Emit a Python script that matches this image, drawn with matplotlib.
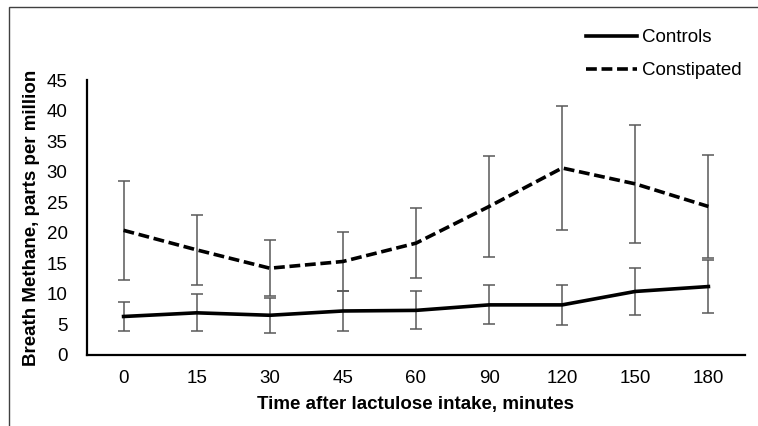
import matplotlib
matplotlib.use("Agg")
import matplotlib.pyplot as plt
import matplotlib.patches as mpatches

plt.rcParams['font.family'] = ['Liberation Sans', 'DejaVu Sans']

# data
times = ['0', '15', '30', '45', '60', '90', '120', '150', '180']
controls = [6.3, 6.9, 6.5, 7.2, 7.3, 8.2, 8.2, 10.4, 11.2]
controls_err = [2.4, 3.0, 2.9, 3.2, 3.1, 3.2, 3.3, 3.9, 4.4]
constipated = [20.4, 17.2, 14.2, 15.3, 18.3, 24.3, 30.6, 28.0, 24.3]
constipated_err = [8.1, 5.7, 4.6, 4.9, 5.7, 8.3, 10.2, 9.7, 8.4]

fs = 13.5

fig = plt.figure(figsize=(7.58, 4.26), dpi=100)
ax = fig.add_axes([0.1148, 0.1667, 0.868, 0.6455])

x = list(range(len(times)))
err_color = '#595959'

ax.errorbar(x, controls, yerr=controls_err, fmt='none', ecolor=err_color,
            elinewidth=1.1, capsize=4, capthick=1.1, zorder=2)
ax.errorbar(x, constipated, yerr=constipated_err, fmt='none', ecolor=err_color,
            elinewidth=1.1, capsize=4, capthick=1.1, zorder=2)
ax.plot(x, controls, color='black', linewidth=2.6, label='Controls', zorder=3)
ax.plot(x, constipated, color='black', linewidth=2.6, linestyle=(0, (3.0, 1.3)),
        label='Constipated', zorder=3)

ax.set_xlim(-0.5, len(times) - 0.5)
ax.set_ylim(0, 45)
ax.set_xticks(x)
ax.set_xticklabels(times)
ax.set_yticks(range(0, 46, 5))
ax.tick_params(axis='both', length=0, labelsize=fs, colors='black')
ax.tick_params(axis='x', pad=11)
ax.tick_params(axis='y', pad=14)

for side in ['top', 'right']:
    ax.spines[side].set_visible(False)
for side in ['left', 'bottom']:
    ax.spines[side].set_linewidth(1.6)
    ax.spines[side].set_color('black')

ax.set_xlabel('Time after lactulose intake, minutes', fontsize=fs,
              fontweight='bold', labelpad=6)
ax.set_ylabel('Breath Methane, parts per million', fontsize=fs,
              fontweight='bold', labelpad=5)

fig.legend(loc='upper left', bbox_to_anchor=(586 / 758, 1 - 29 / 426),
           frameon=False, fontsize=fs, handlelength=2.7, handletextpad=0.3,
           labelspacing=0.85, borderpad=0, borderaxespad=0)

# outer frame around the chart area
frame = mpatches.Rectangle((9 / 758, -0.1), 1.2, 1 - 7 / 426 + 0.1,
                           transform=fig.transFigure, fill=False,
                           edgecolor='#404040', linewidth=1.0)
fig.patches.append(frame)

fig.savefig('out.png', dpi=100, facecolor='white')
